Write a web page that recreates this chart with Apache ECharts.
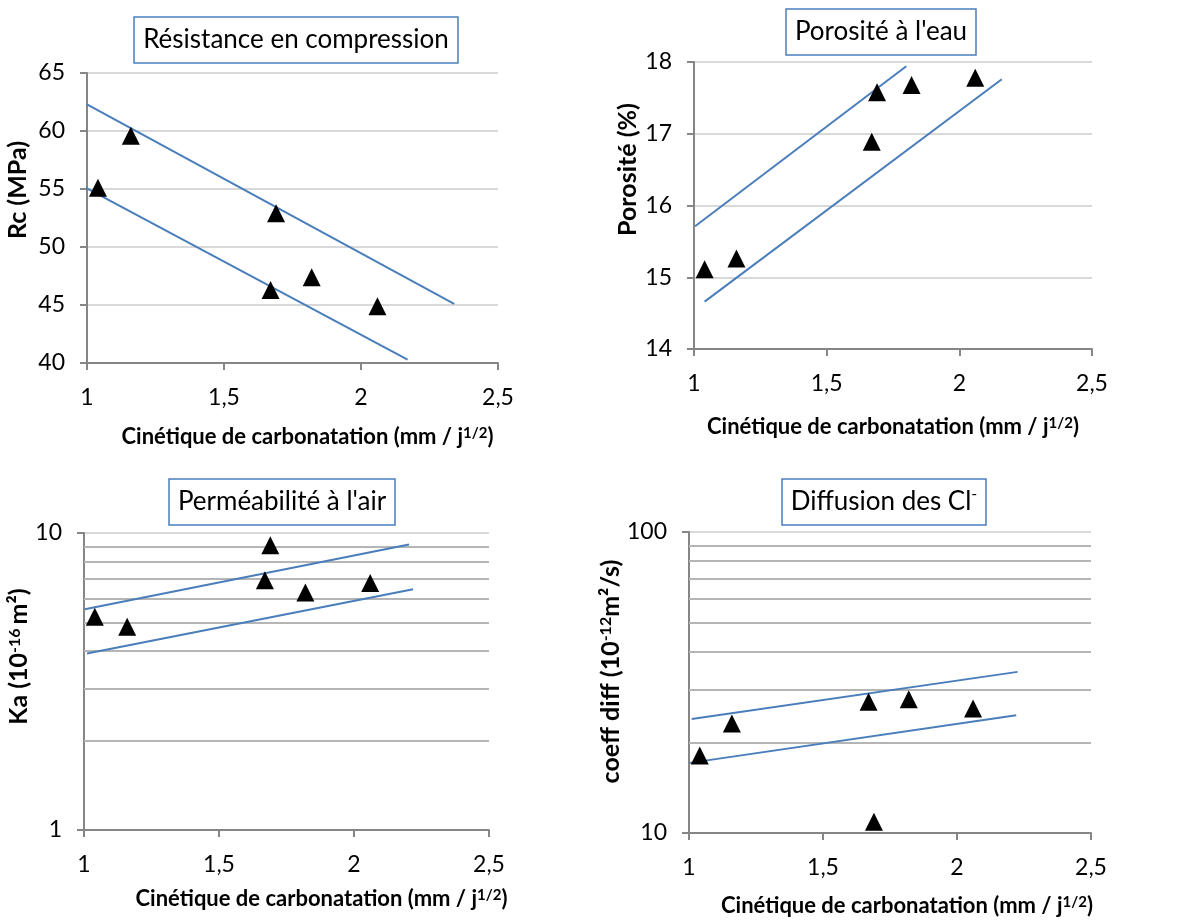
<!DOCTYPE html>
<html>
<head>
<meta charset="utf-8">
<script src="https://cdn.jsdelivr.net/npm/echarts@6/dist/echarts.min.js"></script>
<style>
  html, body { margin: 0; padding: 0; background: #fff; }
  #graphs { width: 1181px; height: 921px; }
</style>
</head>
<body>
<div id="graphs"></div>
<script>
// carbonation kinetics (mm / j^1/2), same six concretes in every panel
var kinetics = [1.04, 1.16, 1.67, 1.69, 1.82, 2.06];

var rc = [55.1, 59.6, 46.3, 52.9, 47.4, 44.9];
var rcUpper = [[1.0, 62.3], [2.34, 45.1]];
var rcLower = [[0.965, 55.5], [2.17, 40.3]];

var poro = [15.11, 15.26, 16.89, 17.58, 17.68, 17.78];
var poroUpper = [[1.004, 15.71], [1.80, 17.94]];
var poroLower = [[1.04, 14.66], [2.16, 17.76]];

var ka = [5.22, 4.83, 6.93, 9.09, 6.30, 6.79];
var kaUpper = [[1.003, 5.54], [2.204, 9.14]];
var kaLower = [[1.011, 3.93], [2.219, 6.47]];

var diff = [18.1, 23.1, 27.3, 10.9, 27.8, 25.9];
var diffUpper = [[1.01, 23.9], [2.226, 34.3]];
var diffLower = [[1.003, 17.1], [2.221, 24.6]];

var kaMinor = [2, 3, 4, 5, 6, 7, 8, 9];
var diffMinor = [20, 30, 40, 50, 60, 70, 80, 90];

var titles = ['Résistance en compression', "Porosité à l'eau", "Perméabilité à l'air", 'Diffusion des Cl{sup|-}'];
var yNames = ['Rc (MPa)', 'Porosité (%)', 'Ka (10{sup|-16 }m²)', 'coeff diff (10{sup|-12}m²/s)'];
var xName = 'Cinétique de carbonatation (mm / j{sup|1/2})';

var font = 'Lato, "Open Sans", sans-serif';
var blue = '#4a7ebb';

var myChart = echarts.init(document.getElementById('graphs'));

function pts(xs, ys) {
    return xs.map(function (x, i) { return [x, ys[i]]; });
}

var grids = [
    {left: 87, top: 73, width: 411, height: 290},
    {left: 694, top: 62, width: 398, height: 287},
    {left: 84, top: 533, width: 405, height: 297},
    {left: 689, top: 532, width: 402, height: 301}
];
// where titles sit (center x, top y) and how names are nudged
var titlePos = [[287, 17], [872, 9], [273, 479], [875, 479]];
var xNameGap = [63, 67, 58, 62];
var xNameShift = [30, 0, 70, 34];
var yNameShift = [56, 72, 50, 22];
var yNameGap = [57, 54, 47, 48];

function xAxis(i) {
    return {
        type: 'value', gridIndex: i, min: 1, max: 2.5, interval: 0.5,
        axisLine: {show: true, onZero: false, lineStyle: {color: '#868686', width: 2}},
        axisTick: {show: true, length: 7, lineStyle: {color: '#868686', width: 2}},
        axisLabel: {margin: 23, fontFamily: font, fontSize: 23, color: '#000',
            formatter: function (v) { return String(v).replace('.', ','); }},
        splitLine: {show: false},
        name: xName, nameLocation: 'middle', nameGap: xNameGap[i],
        nameTextStyle: {fontFamily: font, fontWeight: 'bold', fontSize: 22, color: '#000',
            padding: [0, 0, 0, xNameShift[i]],
            rich: {sup: {fontFamily: font, fontWeight: 'bold', fontSize: 15, verticalAlign: 'top', color: '#000'}}}
    };
}

function yAxis(i, extra) {
    var ax = {
        type: 'value', gridIndex: i,
        axisLine: {show: true, lineStyle: {color: '#868686', width: 2}},
        axisTick: {show: true, length: 7, lineStyle: {color: '#868686', width: 2}},
        axisLabel: {margin: 22, fontFamily: font, fontSize: 23, color: '#000'},
        splitLine: {show: true, lineStyle: {color: '#d9d9d9', width: 2}},
        name: yNames[i], nameLocation: 'middle', nameGap: yNameGap[i], nameRotate: 90,
        nameTextStyle: {fontFamily: font, fontWeight: 'bold', fontSize: 25, color: '#000',
            padding: [0, 0, 0, yNameShift[i]],
            rich: {sup: {fontFamily: font, fontWeight: 'bold', fontSize: 16, verticalAlign: 'top', color: '#000'}}}
    };
    return Object.assign(ax, extra);
}

function scatter(i, data) {
    return {type: 'scatter', xAxisIndex: i, yAxisIndex: i, data: data,
        symbol: 'triangle', symbolSize: 18, itemStyle: {color: '#000', opacity: 1}, z: 5};
}

function trend(i, data, minor) {
    var s = {type: 'line', xAxisIndex: i, yAxisIndex: i, data: data, clip: false,
        symbol: 'none', lineStyle: {color: blue, width: 2}, z: 4};
    if (minor) {
        s.markLine = {silent: true, symbol: 'none', label: {show: false},
            lineStyle: {color: '#b5b5b5', width: 2, type: 'solid'},
            data: minor.map(function (v) { return {yAxis: v}; }), z: 1};
    }
    return s;
}

var option = {
    animation: false,
    backgroundColor: '#fff',
    title: titles.map(function (t, i) {
        return {
            text: t, left: titlePos[i][0], top: titlePos[i][1], textAlign: 'center',
            padding: [7, 9, 7, 9], borderColor: blue, borderWidth: 1.5, backgroundColor: '#fff',
            textStyle: {fontFamily: font, fontWeight: 'normal', fontSize: 26, lineHeight: 32, color: '#000',
                rich: {sup: {fontFamily: font, fontSize: 16, verticalAlign: 'top', color: '#000'}}}
        };
    }),
    grid: grids,
    xAxis: [xAxis(0), xAxis(1), xAxis(2), xAxis(3)],
    yAxis: [
        yAxis(0, {min: 40, max: 65, interval: 5}),
        yAxis(1, {min: 14, max: 18, interval: 1}),
        yAxis(2, {type: 'log', logBase: 10, min: 1, max: 10}),
        yAxis(3, {type: 'log', logBase: 10, min: 10, max: 100})
    ],
    series: [
        scatter(0, pts(kinetics, rc)), trend(0, rcUpper), trend(0, rcLower),
        scatter(1, pts(kinetics, poro)), trend(1, poroUpper), trend(1, poroLower),
        scatter(2, pts(kinetics, ka)), trend(2, kaUpper, kaMinor), trend(2, kaLower),
        scatter(3, pts(kinetics, diff)), trend(3, diffUpper, diffMinor), trend(3, diffLower)
    ]
};

myChart.setOption(option);
</script>
</body>
</html>
